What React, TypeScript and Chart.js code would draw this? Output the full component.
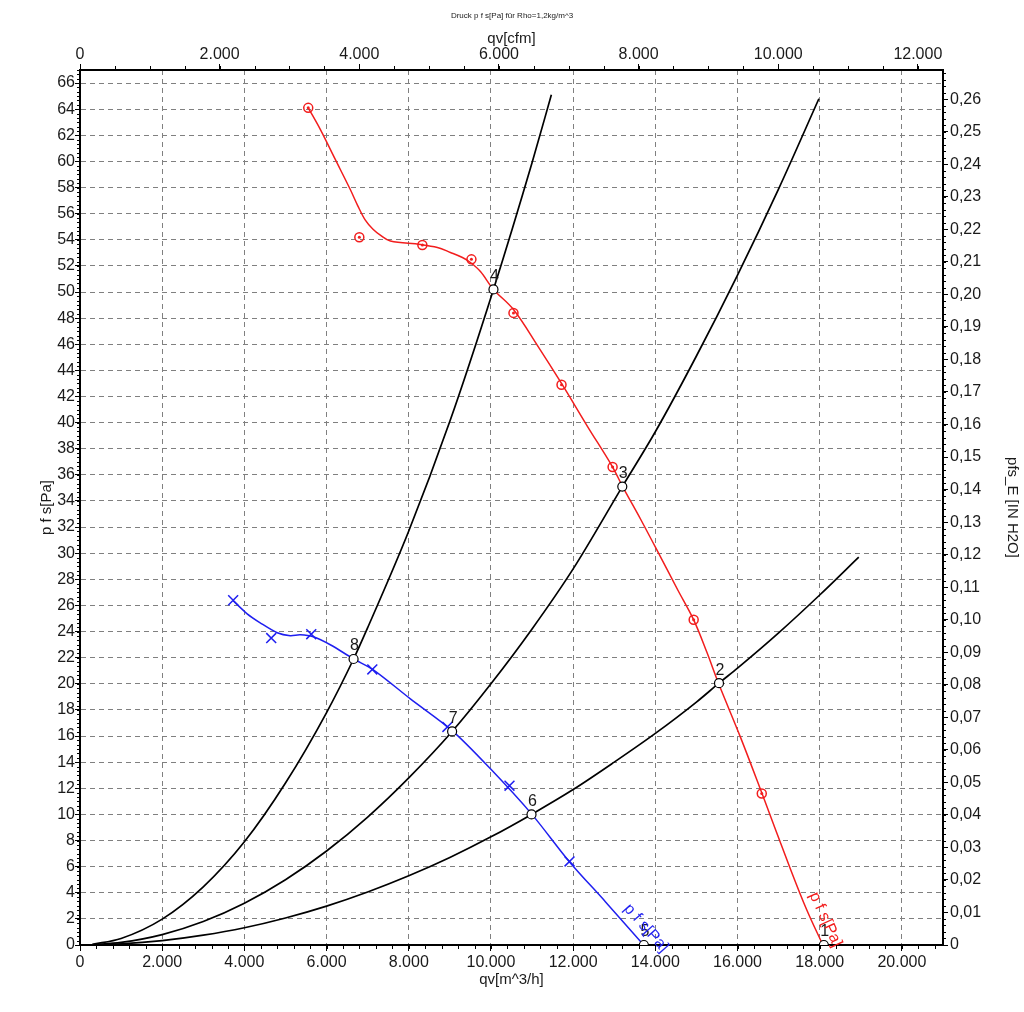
import React, { useEffect, useRef } from 'react';
import { Chart, registerables } from 'chart.js';

Chart.register(...registerables);

// ---- Unit conversions (axis scales) ----
const M3H_PER_CFM = 1.699;
const PA_PER_INH2O = 249.09;
const X_MAX = 21000;
const Y_MAX = 67;

// ---- Tick values ----
const xTickValues = [0, 2000, 4000, 6000, 8000, 10000, 12000, 14000, 16000, 18000, 20000];
const x2TickValues = [0, 2000, 4000, 6000, 8000, 10000, 12000];
const yTickValues = [0, 2, 4, 6, 8, 10, 12, 14, 16, 18, 20, 22, 24, 26, 28, 30, 32, 34, 36, 38, 40, 42, 44, 46, 48, 50, 52, 54, 56, 58, 60, 62, 64, 66];
const y2TickValues = [0, 0.01, 0.02, 0.03, 0.04, 0.05, 0.06, 0.07, 0.08, 0.09, 0.1, 0.11, 0.12, 0.13, 0.14, 0.15, 0.16, 0.17, 0.18, 0.19, 0.2, 0.21, 0.22, 0.23, 0.24, 0.25, 0.26];
const X_MINOR = 400;
const X2_MINOR = 500;
const Y_MINOR = 1 / 3;
const Y2_MINOR = 0.002;

// ---- Red characteristic p f s[Pa] (fitted line) ----
const redLineQ = [5554, 5847, 6212, 6577, 6760, 6943, 7130, 7308, 7552, 8283, 8697, 9013, 9306, 9501, 9744, 10061, 10548, 11133, 11717, 12351, 12960, 13204, 13642, 14129, 14543, 14933, 15250, 15542, 16078, 16590, 17296, 17686, 18076];
const redLineP = [64.1, 62.45, 60.15, 57.85, 56.6, 55.5, 54.8, 54.35, 53.9, 53.64, 53.41, 53.03, 52.64, 52.26, 51.57, 50.2, 48.66, 45.9, 43.0, 39.7, 36.6, 35.1, 32.6, 29.7, 27.2, 24.9, 22.45, 20.0, 15.86, 11.65, 5.75, 2.68, 0];
// measured points (red circles)
const redMarkQ = [5554, 6797, 8331, 9525, 10548, 11717, 12960, 14933, 16590];
const redMarkP = [64.1, 54.2, 53.6, 52.5, 48.4, 42.9, 36.6, 24.9, 11.6];

// ---- Blue characteristic p f s[Pa] (fitted line) ----
const blueLineQ = [3727, 4068, 4385, 4799, 5116, 5359, 5676, 6090, 6650, 7138, 8039, 9062, 9988, 10987, 11912, 12789, 13715];
const blueLineP = [26.36, 25.36, 24.67, 23.91, 23.68, 23.75, 23.6, 22.99, 21.92, 21.07, 18.85, 16.4, 13.49, 10.04, 6.36, 3.3, 0];
// measured points (blue crosses)
const blueMarkQ = [3727, 4653, 5627, 7113, 8940, 10451, 11912];
const blueMarkP = [26.4, 23.5, 23.8, 21.1, 16.7, 12.2, 6.4];

// ---- System curves (black) ----
const sysAQ = [300, 1000, 2000, 3000, 4000, 5000, 6000, 6657, 7000, 8000, 9000, 10061, 11000, 11470];
const sysAP = [0.05, 0.5, 1.98, 4.45, 7.9, 12.4, 17.8, 21.9, 24.3, 31.7, 40.1, 50.2, 59.9, 65.1];
const sysBQ = [300, 1000, 2000, 3000, 4000, 5000, 6000, 7000, 8000, 9055, 10000, 11000, 12000, 13196, 14000, 15000, 16000, 17000, 17980];
const sysBP = [0.02, 0.2, 0.8, 1.8, 3.2, 5.0, 7.2, 9.8, 12.8, 16.35, 20.0, 24.2, 28.8, 35.1, 39.3, 45.1, 51.3, 57.9, 64.8];
const sysCQ = [300, 1000, 2000, 3000, 4000, 5000, 6000, 7000, 8000, 9000, 10000, 10987, 12000, 13000, 14000, 15000, 15549, 16000, 17000, 18000, 18950];
const sysCP = [0.01, 0.08, 0.33, 0.75, 1.32, 2.07, 2.98, 4.06, 5.3, 6.7, 8.28, 10.0, 11.9, 14.0, 16.2, 18.6, 20.05, 21.2, 23.9, 26.8, 29.7];

// ---- Operating points ----
const opLabels = ['1', '2', '3', '4', '5', '6', '7', '8'];
const opQ = [18100, 15549, 13196, 10061, 13721, 10987, 9055, 6657];
const opP = [0, 20.05, 35.1, 50.2, 0, 10.0, 16.35, 21.9];

// ---- Texts ----
const TITLE = 'Druck p f s[Pa] für Rho=1,2kg/m^3';
const X_TITLE = 'qv[m^3/h]';
const X2_TITLE = 'qv[cfm]';
const Y_TITLE = 'p f s[Pa]';
const Y2_TITLE = 'pfs_E [IN H2O]';
const CURVE_LABEL = 'p f s[Pa]';

const RED = '#f21d1d';
const BLUE = '#1f1ff0';
const FONT = "'Liberation Sans', Arial, sans-serif";
const TXT = '#1a1a1a';

const pts = (xs: number[], ys: number[]) => xs.map((x, i) => ({ x, y: ys[i] }));
const fmtThousands = (v: number) => {
  const n = Math.round(v);
  if (n === 0) return '0';
  return String(n).replace(/\B(?=(\d{3})+(?!\d))/g, '.');
};
const setTicks = (vals: number[]) => (s: any) => { s.ticks = vals.map((value) => ({ value })); };

const minorTicksPlugin = {
  id: 'minorTicks',
  afterDraw(chart: any) {
    const ctx = chart.ctx;
    const ca = chart.chartArea;
    const specs = [
      { id: 'x', step: X_MINOR, side: 'bottom' },
      { id: 'x2', step: X2_MINOR, side: 'top' },
      { id: 'y', step: Y_MINOR, side: 'left' },
      { id: 'y2', step: Y2_MINOR, side: 'right' },
    ];
    ctx.save();
    ctx.strokeStyle = '#000';
    ctx.lineWidth = 1;
    ctx.beginPath();
    for (const s of specs) {
      const sc = chart.scales[s.id];
      if (!sc) continue;
      for (let i = 0; i * s.step <= sc.max + 1e-9; i++) {
        const p = Math.round(sc.getPixelForValue(i * s.step)) + 0.5;
        if (s.side === 'bottom') { ctx.moveTo(p, ca.bottom); ctx.lineTo(p, ca.bottom + 4); }
        if (s.side === 'top') { ctx.moveTo(p, ca.top); ctx.lineTo(p, ca.top - 4); }
        if (s.side === 'left') { ctx.moveTo(ca.left, p); ctx.lineTo(ca.left - 3, p); }
        if (s.side === 'right') { ctx.moveTo(ca.right, p); ctx.lineTo(ca.right + 3, p); }
      }
    }
    ctx.stroke();
    ctx.restore();
  },
};

const labelsPlugin = {
  id: 'curveLabels',
  afterDatasetsDraw(chart: any) {
    const ctx = chart.ctx;
    const find = (label: string) => chart.data.datasets.findIndex((d: any) => d.label === label);
    ctx.save();
    const oi = find('ops');
    if (oi >= 0) {
      const meta = chart.getDatasetMeta(oi);
      ctx.font = `16px ${FONT}`;
      ctx.fillStyle = TXT;
      ctx.textAlign = 'center';
      ctx.textBaseline = 'middle';
      meta.data.forEach((el: any, i: number) => {
        ctx.fillText(opLabels[i], el.x + 1, el.y - 13);
      });
    }
    const rot = [
      { label: 'redLine', color: RED, s: 22, t: 13 },
      { label: 'blueLine', color: BLUE, s: 11, t: 13 },
    ];
    for (const r of rot) {
      const idx = find(r.label);
      if (idx < 0) continue;
      const els = chart.getDatasetMeta(idx).data;
      const a = els[els.length - 2];
      const b = els[els.length - 1];
      const ang = Math.atan2(b.y - a.y, b.x - a.x);
      const dx = Math.cos(ang), dy = Math.sin(ang);
      const nx = Math.sin(ang), ny = -Math.cos(ang);
      const cx = b.x - dx * r.s + nx * r.t;
      const cy = b.y - dy * r.s + ny * r.t;
      ctx.save();
      ctx.translate(cx, cy);
      ctx.rotate(ang);
      ctx.font = `16px ${FONT}`;
      ctx.fillStyle = r.color;
      ctx.textAlign = 'center';
      ctx.textBaseline = 'middle';
      ctx.fillText(CURVE_LABEL, 0, 0);
      ctx.restore();
    }
    ctx.restore();
  },
};

const tickFont = { family: FONT, size: 16 };
const titleFont = { family: FONT, size: 15 };
const gridBase = { color: '#808080', lineWidth: 1, tickColor: '#000', tickWidth: 1, tickBorderDash: [] as number[] };
const borderBase = { display: true, color: '#000', width: 2, dash: [5, 4] };

export default function App() {
  const ref = useRef<HTMLCanvasElement | null>(null);

  useEffect(() => {
    document.body.style.margin = '0';
    const canvas = ref.current;
    if (!canvas) return;
    const chart = new Chart(canvas, {
      type: 'scatter',
      data: {
        datasets: [
          { label: 'ops', data: pts(opQ, opP), showLine: false, pointRadius: 4.5, pointBackgroundColor: '#fff', pointBorderColor: '#000', pointBorderWidth: 1.2 },
          { label: 'redDots', data: pts(redMarkQ, redMarkP), showLine: false, pointRadius: 1.5, pointBackgroundColor: RED, pointBorderWidth: 0 },
          { label: 'redMarks', data: pts(redMarkQ, redMarkP), showLine: false, pointRadius: 4.5, pointBackgroundColor: 'rgba(0,0,0,0)', pointBorderColor: RED, pointBorderWidth: 1.5 },
          { label: 'blueMarks', data: pts(blueMarkQ, blueMarkP), showLine: false, pointStyle: 'crossRot', pointRadius: 7, pointBorderColor: BLUE, pointBorderWidth: 1.5 },
          { label: 'redLine', data: pts(redLineQ, redLineP), showLine: true, borderColor: RED, borderWidth: 1.5, pointRadius: 0, tension: 0.35 },
          { label: 'blueLine', data: pts(blueLineQ, blueLineP), showLine: true, borderColor: BLUE, borderWidth: 1.5, pointRadius: 0, tension: 0.3 },
          { label: 'sysA', data: pts(sysAQ, sysAP), showLine: true, borderColor: '#000', borderWidth: 1.7, pointRadius: 0, cubicInterpolationMode: 'monotone' },
          { label: 'sysB', data: pts(sysBQ, sysBP), showLine: true, borderColor: '#000', borderWidth: 1.7, pointRadius: 0, cubicInterpolationMode: 'monotone' },
          { label: 'sysC', data: pts(sysCQ, sysCP), showLine: true, borderColor: '#000', borderWidth: 1.7, pointRadius: 0, cubicInterpolationMode: 'monotone' },
        ] as any,
      },
      options: {
        responsive: false,
        animation: false,
        devicePixelRatio: 1,
        layout: { padding: 0 },
        plugins: {
          legend: { display: false },
          tooltip: { enabled: false },
          title: {
            display: true,
            text: TITLE,
            color: TXT,
            font: { family: FONT, size: 8, weight: 'normal' },
            padding: { top: 11, bottom: 0 },
          },
        },
        scales: {
          x: {
            type: 'linear',
            position: 'bottom',
            min: 0,
            max: X_MAX,
            afterFit: (s: any) => { s.height = 67; },
            afterBuildTicks: setTicks(xTickValues),
            ticks: { autoSkip: false, maxRotation: 0, padding: 2, font: tickFont, color: TXT, callback: (v: any) => fmtThousands(Number(v)) },
            grid: { ...gridBase, tickLength: 6 },
            border: borderBase,
            title: { display: true, text: X_TITLE, font: titleFont, color: TXT, padding: { top: 0, bottom: 23 } },
          },
          x2: {
            type: 'linear',
            axis: 'x',
            position: 'top',
            min: 0,
            max: X_MAX / M3H_PER_CFM,
            afterFit: (s: any) => { s.height = 49.4; },
            afterBuildTicks: setTicks(x2TickValues),
            ticks: { autoSkip: false, maxRotation: 0, padding: 0, font: tickFont, color: TXT, callback: (v: any) => fmtThousands(Number(v)) },
            grid: { ...gridBase, drawOnChartArea: false, tickLength: 6 },
            border: borderBase,
            title: { display: true, text: X2_TITLE, font: titleFont, color: TXT, padding: { top: 9, bottom: 0 } },
          },
          y: {
            type: 'linear',
            position: 'left',
            min: 0,
            max: Y_MAX,
            afterFit: (s: any) => { s.width = 80; },
            afterBuildTicks: setTicks(yTickValues),
            ticks: { autoSkip: false, padding: 0, font: tickFont, color: TXT, callback: (v: any) => String(Math.round(Number(v))) },
            grid: { ...gridBase, tickLength: 5 },
            border: borderBase,
            title: { display: true, text: Y_TITLE, font: titleFont, color: TXT, padding: { top: 38, bottom: 0 } },
          },
          y2: {
            type: 'linear',
            axis: 'y',
            position: 'right',
            min: 0,
            max: Y_MAX / PA_PER_INH2O,
            afterFit: (s: any) => { s.width = 81; },
            afterBuildTicks: setTicks(y2TickValues),
            ticks: {
              autoSkip: false,
              padding: 2,
              font: tickFont,
              color: TXT,
              callback: (v: any) => {
                const n = Number(v);
                if (Math.abs(n) < 1e-9) return '0';
                return n.toFixed(2).replace('.', ',');
              },
            },
            grid: { ...gridBase, drawOnChartArea: false, tickLength: 5 },
            border: borderBase,
            title: { display: true, text: Y2_TITLE, font: titleFont, color: TXT, padding: { top: 3, bottom: 0 } },
          },
        },
      } as any,
      plugins: [minorTicksPlugin, labelsPlugin],
    });
    return () => chart.destroy();
  }, []);

  return (
    <div style={{ width: 1024, height: 1012, background: '#fff' }}>
      <canvas ref={ref} width={1024} height={1012} style={{ display: 'block' }} />
    </div>
  );
}
